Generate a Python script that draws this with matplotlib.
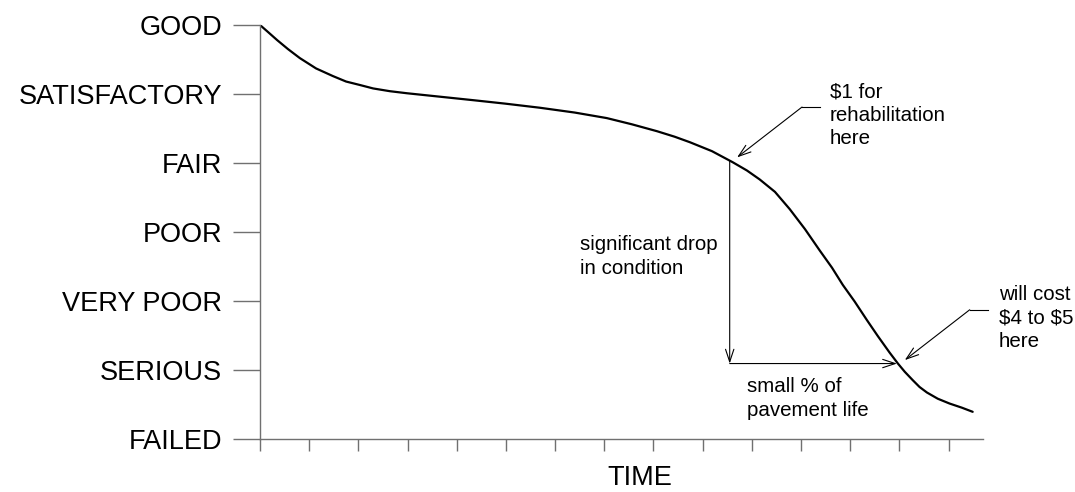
import matplotlib.pyplot as plt

plt.rcParams['font.family'] = ['Liberation Sans', 'DejaVu Sans']

# condition levels (bottom to top)
levels = ["FAILED", "SERIOUS", "VERY POOR", "POOR", "FAIR", "SATISFACTORY", "GOOD"]

# pavement condition curve (time units, condition level)
time = [0.00, 0.16, 0.35, 0.57, 0.81, 1.14, 1.48, 1.75, 2.03, 2.30, 2.64, 2.99,
        3.66, 4.33, 4.98, 5.69, 6.40, 7.05, 7.56, 8.07, 8.43, 8.74, 9.19, 9.61,
        9.90, 10.16, 10.47, 10.77, 11.08, 11.38, 11.63, 11.85, 12.09, 12.34, 12.56,
        12.80, 12.97, 13.11, 13.27, 13.41, 13.56, 13.78, 14.02, 14.27, 14.49]
condition = [6.00, 5.90, 5.78, 5.65, 5.52, 5.37, 5.26, 5.18, 5.13, 5.08, 5.04, 5.01,
             4.96, 4.91, 4.86, 4.80, 4.73, 4.65, 4.56, 4.46, 4.38, 4.30, 4.17, 4.01,
             3.89, 3.76, 3.58, 3.33, 3.04, 2.73, 2.48, 2.23, 1.99, 1.72, 1.49,
             1.25, 1.09, 0.97, 0.85, 0.75, 0.67, 0.58, 0.51, 0.45, 0.39]

n_time_ticks = 15

# drop / life arrows
drop_t = 9.55
drop_top = 4.03
drop_bottom = 1.09
life_end = 12.95

# callouts: tip, elbow, end of leader, text position
rehab_tip, rehab_elbow, rehab_end = (9.70, 4.08), (11.02, 4.81), (11.38, 4.81)
rehab_text = (11.59, 4.69)
cost_tip, cost_elbow, cost_end = (13.11, 1.14), (14.43, 1.87), (14.80, 1.87)
cost_text = (15.02, 1.75)

fig = plt.figure(figsize=(10.75, 4.92), dpi=100)
ax = fig.add_axes([260 / 1075, 1 - 438.7 / 492, (983 - 260) / 1075, (438.7 - 25) / 492])

ax.plot(time, condition, color='black', lw=1.6, solid_capstyle='round', solid_joinstyle='round')

ax.set_xlim(0, 14.7)
ax.set_ylim(0, 6)
ax.set_yticks(range(len(levels)))
ax.set_yticklabels(levels, fontsize=19.5)
ax.set_xticks(range(n_time_ticks))
ax.set_xticklabels([])
ax.tick_params(axis='y', length=19.4, width=1.0, color='#707070', pad=8)
ax.tick_params(axis='x', length=8.6, width=1.0, color='#707070')
for side in ['top', 'right']:
    ax.spines[side].set_visible(False)
for side in ['left', 'bottom']:
    ax.spines[side].set_color('#707070')
    ax.spines[side].set_linewidth(1.0)

arrow = dict(arrowstyle='->,head_length=0.9,head_width=0.3', color='black', lw=0.8,
             shrinkA=0, shrinkB=0)
note = dict(fontsize=14.8, va='center', ha='left', linespacing=1.3, parse_math=False)

ax.annotate('', xy=(drop_t, drop_bottom), xytext=(drop_t, drop_top), arrowprops=arrow)
ax.annotate('', xy=(life_end, drop_bottom), xytext=(drop_t, drop_bottom), arrowprops=arrow)

ax.plot([rehab_end[0], rehab_elbow[0]], [rehab_end[1], rehab_elbow[1]], color='black', lw=0.8)
ax.annotate('', xy=rehab_tip, xytext=rehab_elbow, arrowprops=arrow)
ax.text(*rehab_text, "$1 for\nrehabilitation\nhere", **note)

ax.plot([cost_end[0], cost_elbow[0]], [cost_end[1], cost_elbow[1]], color='black', lw=0.8,
        clip_on=False)
ax.annotate('', xy=cost_tip, xytext=cost_elbow, arrowprops=arrow, annotation_clip=False)
ax.text(*cost_text, "will cost\n$4 to $5\nhere", clip_on=False, **note)

ax.text(6.50, 2.64, "significant drop\nin condition", **note)
ax.text(9.90, 0.58, "small % of\npavement life", **note)

fig.text(640 / 1075, 1 - 478 / 492, "TIME", fontsize=19.5, ha='center', va='center')

fig.savefig("out.png", dpi=100)
